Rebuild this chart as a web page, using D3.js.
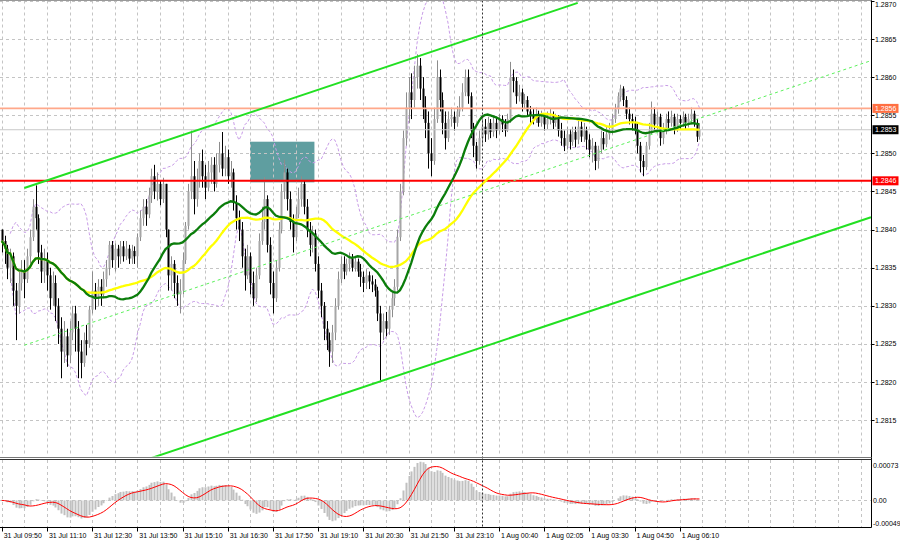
<!DOCTYPE html>
<html><head><meta charset="utf-8">
<script src="https://cdn.jsdelivr.net/npm/d3@7"></script>
<style>html,body{margin:0;padding:0;background:#fff;}svg{display:block;font-family:"Liberation Sans",Arial,sans-serif;}</style>
</head><body><svg id="c" width="900" height="543"></svg>
<script>
// ---- DATA (M5 candles) ----
const opens=[1.28400,
1.28385,1.28375,1.28350,1.28365,1.28320,1.28300,1.28330,1.28345,1.28335,1.28365,
1.28390,1.28430,1.28415,1.28370,1.28345,1.28360,1.28340,1.28310,1.28330,1.28300,
1.28270,1.28240,1.28260,1.28235,1.28265,1.28290,1.28270,1.28240,1.28225,1.28255,
1.28250,1.28295,1.28320,1.28310,1.28325,1.28315,1.28335,1.28350,1.28380,1.28360,
1.28375,1.28365,1.28378,1.28365,1.28375,1.28362,1.28372,1.28365,1.28390,1.28415,
1.28430,1.28420,1.28445,1.28470,1.28450,1.28460,1.28440,1.28460,1.28400,1.28340,
1.28355,1.28330,1.28315,1.28320,1.28360,1.28405,1.28450,1.28470,1.28440,1.28465,
1.28490,1.28470,1.28455,1.28475,1.28485,1.28460,1.28485,1.28500,1.28480,1.28495,
1.28470,1.28475,1.28435,1.28415,1.28400,1.28365,1.28340,1.28365,1.28330,1.28310,
1.28340,1.28385,1.28410,1.28440,1.28380,1.28330,1.28310,1.28350,1.28400,1.28450,
1.28475,1.28440,1.28410,1.28390,1.28420,1.28440,1.28460,1.28430,1.28400,1.28380,
1.28395,1.28355,1.28320,1.28300,1.28270,1.28255,1.28240,1.28265,1.28300,1.28335,
1.28355,1.28345,1.28355,1.28362,1.28350,1.28358,1.28345,1.28338,1.28330,1.28340,
1.28332,1.28328,1.28320,1.28290,1.28265,1.28280,1.28270,1.28295,1.28310,1.28325,
1.28390,1.28450,1.28520,1.28560,1.28580,1.28570,1.28600,1.28615,1.28585,1.28560,
1.28540,1.28500,1.28490,1.28545,1.28600,1.28570,1.28540,1.28520,1.28545,1.28548,
1.28540,1.28555,1.28560,1.28580,1.28600,1.28575,1.28530,1.28510,1.28490,1.28520,
1.28535,1.28525,1.28540,1.28528,1.28540,1.28530,1.28545,1.28538,1.28530,1.28545,
1.28600,1.28595,1.28575,1.28580,1.28565,1.28570,1.28555,1.28550,1.28545,1.28552,
1.28540,1.28548,1.28538,1.28545,1.28550,1.28540,1.28545,1.28530,1.28520,1.28510,
1.28525,1.28515,1.28528,1.28518,1.28535,1.28522,1.28530,1.28518,1.28505,1.28510,
1.28490,1.28505,1.28520,1.28512,1.28525,1.28530,1.28545,1.28558,1.28575,1.28585,
1.28570,1.28552,1.28545,1.28540,1.28532,1.28510,1.28490,1.28482,1.28510,1.28530,
1.28552,1.28538,1.28548,1.28520,1.28530,1.28545,1.28540,1.28548,1.28532,1.28545,
1.28540,1.28548,1.28540,1.28545,1.28552,1.28540,1.28522];
const closes=[
1.28385,1.28375,1.28350,1.28365,1.28320,1.28300,1.28330,1.28345,1.28335,1.28365,
1.28390,1.28430,1.28415,1.28370,1.28345,1.28360,1.28340,1.28310,1.28330,1.28300,
1.28270,1.28240,1.28260,1.28235,1.28265,1.28290,1.28270,1.28240,1.28225,1.28255,
1.28250,1.28295,1.28320,1.28310,1.28325,1.28315,1.28335,1.28350,1.28380,1.28360,
1.28375,1.28365,1.28378,1.28365,1.28375,1.28362,1.28372,1.28365,1.28390,1.28415,
1.28430,1.28420,1.28445,1.28470,1.28450,1.28460,1.28440,1.28460,1.28400,1.28340,
1.28355,1.28330,1.28315,1.28320,1.28360,1.28405,1.28450,1.28470,1.28440,1.28465,
1.28490,1.28470,1.28455,1.28475,1.28485,1.28460,1.28485,1.28500,1.28480,1.28495,
1.28470,1.28475,1.28435,1.28415,1.28400,1.28365,1.28340,1.28365,1.28330,1.28310,
1.28340,1.28385,1.28410,1.28440,1.28380,1.28330,1.28310,1.28350,1.28400,1.28450,
1.28475,1.28440,1.28410,1.28390,1.28420,1.28440,1.28460,1.28430,1.28400,1.28380,
1.28395,1.28355,1.28320,1.28300,1.28270,1.28255,1.28240,1.28265,1.28300,1.28335,
1.28355,1.28345,1.28355,1.28362,1.28350,1.28358,1.28345,1.28338,1.28330,1.28340,
1.28332,1.28328,1.28320,1.28290,1.28265,1.28280,1.28270,1.28295,1.28310,1.28325,
1.28390,1.28450,1.28520,1.28560,1.28580,1.28570,1.28600,1.28615,1.28585,1.28560,
1.28540,1.28500,1.28490,1.28545,1.28600,1.28570,1.28540,1.28520,1.28545,1.28548,
1.28540,1.28555,1.28560,1.28580,1.28600,1.28575,1.28530,1.28510,1.28490,1.28520,
1.28535,1.28525,1.28540,1.28528,1.28540,1.28530,1.28545,1.28538,1.28530,1.28545,
1.28600,1.28595,1.28575,1.28580,1.28565,1.28570,1.28555,1.28550,1.28545,1.28552,
1.28540,1.28548,1.28538,1.28545,1.28550,1.28540,1.28545,1.28530,1.28520,1.28510,
1.28525,1.28515,1.28528,1.28518,1.28535,1.28522,1.28530,1.28518,1.28505,1.28510,
1.28490,1.28505,1.28520,1.28512,1.28525,1.28530,1.28545,1.28558,1.28575,1.28585,
1.28570,1.28552,1.28545,1.28540,1.28532,1.28510,1.28490,1.28482,1.28510,1.28530,
1.28552,1.28538,1.28548,1.28520,1.28530,1.28545,1.28540,1.28548,1.28532,1.28545,
1.28540,1.28548,1.28540,1.28545,1.28552,1.28540,1.28522,1.28531];
const highs=[
1.28400,1.28392,1.28380,1.28375,1.28370,1.28330,1.28345,1.28360,1.28360,1.28375,
1.28400,1.28440,1.28458,1.28420,1.28380,1.28375,1.28370,1.28350,1.28345,1.28340,
1.28310,1.28285,1.28280,1.28270,1.28280,1.28300,1.28300,1.28280,1.28255,1.28265,
1.28275,1.28300,1.28345,1.28330,1.28335,1.28335,1.28345,1.28360,1.28385,1.28385,
1.28382,1.28380,1.28385,1.28385,1.28385,1.28380,1.28380,1.28378,1.28395,1.28425,
1.28440,1.28440,1.28455,1.28480,1.28485,1.28475,1.28465,1.28468,1.28460,1.28400,
1.28365,1.28360,1.28340,1.28335,1.28370,1.28410,1.28460,1.28530,1.28490,1.28480,
1.28500,1.28505,1.28485,1.28490,1.28495,1.28495,1.28500,1.28515,1.28528,1.28510,
1.28505,1.28490,1.28480,1.28445,1.28425,1.28410,1.28375,1.28380,1.28370,1.28345,
1.28350,1.28395,1.28430,1.28469,1.28445,1.28390,1.28345,1.28360,1.28410,1.28460,
1.28492,1.28480,1.28450,1.28420,1.28430,1.28455,1.28470,1.28465,1.28440,1.28410,
1.28405,1.28400,1.28365,1.28330,1.28305,1.28280,1.28265,1.28275,1.28310,1.28345,
1.28365,1.28365,1.28362,1.28370,1.28368,1.28365,1.28362,1.28355,1.28345,1.28348,
1.28345,1.28340,1.28335,1.28325,1.28300,1.28290,1.28292,1.28300,1.28318,1.28335,
1.28400,1.28460,1.28530,1.28580,1.28600,1.28605,1.28615,1.28630,1.28625,1.28600,
1.28575,1.28555,1.28520,1.28560,1.28622,1.28610,1.28580,1.28555,1.28555,1.28560,
1.28555,1.28562,1.28575,1.28592,1.28610,1.28610,1.28580,1.28540,1.28515,1.28530,
1.28545,1.28545,1.28548,1.28545,1.28550,1.28548,1.28552,1.28550,1.28545,1.28552,
1.28620,1.28610,1.28600,1.28590,1.28585,1.28578,1.28575,1.28562,1.28558,1.28560,
1.28556,1.28556,1.28552,1.28555,1.28558,1.28555,1.28552,1.28550,1.28540,1.28530,
1.28535,1.28532,1.28535,1.28535,1.28545,1.28542,1.28540,1.28535,1.28525,1.28520,
1.28515,1.28510,1.28530,1.28528,1.28535,1.28540,1.28552,1.28565,1.28580,1.28590,
1.28588,1.28575,1.28560,1.28552,1.28548,1.28540,1.28515,1.28498,1.28515,1.28540,
1.28568,1.28560,1.28555,1.28552,1.28540,1.28552,1.28555,1.28556,1.28552,1.28552,
1.28550,1.28555,1.28552,1.28552,1.28560,1.28556,1.28545,1.28538];
const lows=[
1.28370,1.28355,1.28335,1.28330,1.28300,1.28255,1.28290,1.28320,1.28310,1.28330,
1.28355,1.28385,1.28400,1.28355,1.28330,1.28330,1.28320,1.28295,1.28300,1.28280,
1.28250,1.28205,1.28225,1.28220,1.28225,1.28255,1.28240,1.28205,1.28205,1.28220,
1.28235,1.28245,1.28290,1.28295,1.28300,1.28300,1.28310,1.28325,1.28340,1.28350,
1.28345,1.28350,1.28355,1.28358,1.28360,1.28355,1.28355,1.28355,1.28350,1.28385,
1.28405,1.28405,1.28415,1.28435,1.28440,1.28438,1.28432,1.28435,1.28390,1.28320,
1.28320,1.28310,1.28300,1.28290,1.28315,1.28355,1.28400,1.28440,1.28420,1.28430,
1.28455,1.28455,1.28440,1.28450,1.28460,1.28450,1.28455,1.28475,1.28470,1.28470,
1.28460,1.28455,1.28425,1.28400,1.28385,1.28350,1.28320,1.28335,1.28315,1.28300,
1.28305,1.28335,1.28380,1.28400,1.28370,1.28315,1.28290,1.28305,1.28345,1.28395,
1.28440,1.28425,1.28400,1.28370,1.28385,1.28415,1.28430,1.28420,1.28390,1.28365,
1.28370,1.28345,1.28310,1.28285,1.28255,1.28242,1.28220,1.28225,1.28255,1.28295,
1.28330,1.28335,1.28340,1.28345,1.28345,1.28345,1.28338,1.28325,1.28318,1.28322,
1.28322,1.28318,1.28312,1.28280,1.28202,1.28255,1.28260,1.28262,1.28285,1.28300,
1.28320,1.28385,1.28445,1.28510,1.28540,1.28545,1.28560,1.28585,1.28570,1.28545,
1.28520,1.28480,1.28470,1.28485,1.28540,1.28555,1.28525,1.28505,1.28515,1.28535,
1.28530,1.28535,1.28548,1.28555,1.28575,1.28565,1.28520,1.28495,1.28480,1.28485,
1.28510,1.28515,1.28518,1.28520,1.28522,1.28520,1.28525,1.28528,1.28522,1.28528,
1.28540,1.28580,1.28565,1.28568,1.28555,1.28558,1.28548,1.28540,1.28538,1.28540,
1.28535,1.28535,1.28530,1.28532,1.28538,1.28532,1.28535,1.28522,1.28510,1.28503,
1.28505,1.28505,1.28510,1.28508,1.28512,1.28515,1.28515,1.28505,1.28495,1.28488,
1.28478,1.28480,1.28500,1.28505,1.28508,1.28518,1.28525,1.28540,1.28552,1.28568,
1.28562,1.28545,1.28538,1.28530,1.28525,1.28500,1.28475,1.28470,1.28478,1.28505,
1.28525,1.28530,1.28530,1.28510,1.28512,1.28525,1.28532,1.28535,1.28525,1.28528,
1.28532,1.28535,1.28532,1.28534,1.28538,1.28535,1.28515,1.28518];

const timeLabels=["31 Jul 09:50","31 Jul 11:10","31 Jul 12:30","31 Jul 13:50","31 Jul 15:10","31 Jul 16:30","31 Jul 17:50","31 Jul 19:10","31 Jul 20:30","31 Jul 21:50","31 Jul 23:10","1 Aug 00:40","1 Aug 02:05","1 Aug 03:30","1 Aug 04:50","1 Aug 06:10"];
const timeLabelBars=[0,16,32,48,64,80,96,112,128,144,160,176,192,208,224,240];
const priceTicks=[1.2815,1.2820,1.2825,1.2830,1.2835,1.2840,1.2845,1.2850,1.2855,1.2860,1.2865,1.2870];
const macdTicks=[0.00073,0,-0.00049];
const macdTickLabels=["0.00073","0.00","-0.00049"];
const levelPrices=[1.28559,1.28531,1.28464];
const levelLabels=["1.2856","1.2853","1.2846"];
const channelUpper=[[8.0,1.284545],[203.9,1.286974]];
const channelLower=[[40.0,1.280843],[307.7,1.284163]];
const channelMid=[[8.0,1.282483],[307.4,1.286212]];
const zoneBars=[87.9,110.7];
const zonePrices=[1.28462,1.285153];
const daySeparatorBar=170;
const maFastPeriod=30, maSlowPeriod=50, bbPeriod=20, bbDev=2, macdFast=12, macdSlow=26, macdSignal=9;

// ---- indicators ----
function sma(a,n){return a.map((_,i)=>d3.mean(a.slice(Math.max(0,i-n+1),i+1)));}
function stdev(a,n){return a.map((_,i)=>{const w=a.slice(Math.max(0,i-n+1),i+1);const m=d3.mean(w);return Math.sqrt(d3.mean(w,v=>(v-m)*(v-m)));});}
function ema(a,n){const k=2/(n+1);const out=[];a.forEach((v,i)=>out.push(i?k*v+(1-k)*out[i-1]:v));return out;}
const maFast=sma(closes,maFastPeriod), maSlow=sma(closes,maSlowPeriod);
const bbMid=sma(closes,bbPeriod), sd=stdev(closes,bbPeriod);
const bbUp=bbMid.map((m,i)=>m+bbDev*sd[i]), bbDn=bbMid.map((m,i)=>m-bbDev*sd[i]);
const eF=ema(closes,macdFast), eS=ema(closes,macdSlow);
const macd=eF.map((v,i)=>v-eS[i]);
const sig=sma(macd,macdSignal);

// ---- layout ----
const svg=d3.select("#c");
const W=871.5, mainTop=0.5, mainBot=456.5, subTop=460, subBot=527.5;
const x=d3.scaleLinear().domain([0,308]).range([1.7,1.7+308*2.825]);
const y=d3.scaleLinear().domain([1.2815,1.2870]).range([420.2,0.9]);
const ym=d3.scaleLinear().domain([-0.00049,0.00073]).range([subBot,subTop]);
const defs=svg.append("defs");
defs.append("clipPath").attr("id","cm").append("rect").attr("x",0).attr("y",mainTop).attr("width",W).attr("height",mainBot-mainTop);
defs.append("clipPath").attr("id","cs").append("rect").attr("x",0).attr("y",subTop).attr("width",W).attr("height",subBot-subTop);
const gm=svg.append("g").attr("clip-path","url(#cm)");
const gs=svg.append("g").attr("clip-path","url(#cs)");
const idx=d3.range(closes.length);

// zone rectangle
gm.append("rect").attr("x",x(zoneBars[0])).attr("width",x(zoneBars[1])-x(zoneBars[0]))
 .attr("y",y(zonePrices[1])).attr("height",y(zonePrices[0])-y(zonePrices[1])).attr("fill","#5f9ea0");

// grids
const grid="#c4c4c4";
const vBars=d3.range(0,309,8);
[gm,gs].forEach((g,k)=>{
 g.selectAll(null).data(vBars).enter().append("line")
  .attr("x1",d=>Math.round(x(d))+0.5).attr("x2",d=>Math.round(x(d))+0.5)
  .attr("y1",k?subTop:mainTop).attr("y2",k?subBot:mainBot)
  .attr("stroke",grid).attr("stroke-dasharray","3,3");
});
gm.selectAll(null).data(priceTicks).enter().append("line")
 .attr("x1",0).attr("x2",W).attr("y1",d=>Math.round(y(d))+0.5).attr("y2",d=>Math.round(y(d))+0.5)
 .attr("stroke",grid).attr("stroke-dasharray","3,3");
gs.append("line").attr("x1",0).attr("x2",W).attr("y1",Math.round(ym(0))+0.5).attr("y2",Math.round(ym(0))+0.5)
 .attr("stroke",grid).attr("stroke-dasharray","3,3");

// day separator
svg.append("line").attr("x1",Math.round(x(daySeparatorBar))+0.5).attr("x2",Math.round(x(daySeparatorBar))+0.5)
 .attr("y1",mainTop).attr("y2",subBot).attr("stroke","#333").attr("stroke-dasharray","2,2");

function drawLine(g,vals,from,color,width,dash){
 const ln=d3.line().x(i=>x(i)).y(i=>y(vals[i]));
 const p=g.append("path").attr("d",ln(idx.slice(from))).attr("fill","none").attr("stroke",color).attr("stroke-width",width);
 if(dash)p.attr("stroke-dasharray",dash);
}
// Bollinger bands
drawLine(gm,bbUp,3,"#c79be6",1,"3,2");
drawLine(gm,bbDn,3,"#c79be6",1,"3,2");

// candles
const cg=gm.append("g");
cg.selectAll(null).data(idx).enter().append("line")
 .attr("x1",i=>Math.round(x(i))+0.5).attr("x2",i=>Math.round(x(i))+0.5)
 .attr("y1",i=>y(highs[i])).attr("y2",i=>y(lows[i]))
 .attr("stroke",i=>closes[i]>=opens[i]?"#8c8c8c":"#000").attr("stroke-width",1);
cg.selectAll(null).data(idx).enter().append("rect")
 .attr("x",i=>Math.round(x(i))-0.5).attr("width",2)
 .attr("y",i=>y(Math.max(opens[i],closes[i])))
 .attr("height",i=>Math.max(1,Math.abs(y(opens[i])-y(closes[i]))))
 .attr("fill",i=>closes[i]>=opens[i]?"#a6a6a6":"#000");

// horizontal levels
const levelColors=["#ffa88a","#c8c8c8","#ff0000"], levelW=[1.6,1,2];
levelPrices.forEach((p,k)=>{
 gm.append("line").attr("x1",0).attr("x2",W).attr("y1",y(p)).attr("y2",y(p))
  .attr("stroke",levelColors[k]).attr("stroke-width",levelW[k]);
});

// moving averages
drawLine(gm,maSlow,0,"#ffff00",2.3);
drawLine(gm,maFast,0,"#0b7d0b",2.3);

// channel lines
const cl=d3.line().x(d=>x(d[0])).y(d=>y(d[1]));
gm.append("path").attr("d",cl(channelUpper)).attr("stroke","#22e022").attr("stroke-width",2).attr("fill","none");
gm.append("path").attr("d",cl(channelLower)).attr("stroke","#22e022").attr("stroke-width",2).attr("fill","none");
gm.append("path").attr("d",cl(channelMid)).attr("stroke","#5cf05c").attr("stroke-width",1).attr("stroke-dasharray","3,3").attr("fill","none");

// MACD
gs.selectAll(null).data(idx).enter().append("rect")
 .attr("x",i=>Math.round(x(i))-0.5).attr("width",2)
 .attr("y",i=>Math.min(ym(0),ym(macd[i]))).attr("height",i=>Math.abs(ym(macd[i])-ym(0)))
 .attr("fill","#c0c0c0");
gs.append("path").attr("d",d3.line().x(i=>x(i)).y(i=>ym(sig[i]))(idx)).attr("fill","none").attr("stroke","#ff0000").attr("stroke-width",1);

// frames
const fr=svg.append("g").attr("stroke","#000").attr("fill","none");
fr.append("line").attr("x1",W).attr("x2",W).attr("y1",0).attr("y2",subBot);
fr.append("line").attr("x1",0).attr("x2",W).attr("y1",subBot).attr("y2",subBot);
fr.append("line").attr("x1",0).attr("x2",W).attr("y1",0.5).attr("y2",0.5).attr("stroke","#999");
fr.append("line").attr("x1",0).attr("x2",W).attr("y1",457.5).attr("y2",457.5).attr("stroke","#777");
fr.append("line").attr("x1",0).attr("x2",W).attr("y1",459.5).attr("y2",459.5).attr("stroke","#333");

// price axis
const fs=7;
svg.selectAll(null).data(priceTicks).enter().append("line")
 .attr("x1",W).attr("x2",W+3).attr("y1",d=>Math.round(y(d))+0.5).attr("y2",d=>Math.round(y(d))+0.5).attr("stroke","#000");
svg.selectAll(null).data(priceTicks).enter().append("text")
 .attr("x",875).attr("y",d=>Math.max(y(d),4)+2.5).attr("font-size",fs).attr("fill","#000").text(d=>d.toFixed(4));
const boxFill=["#ff6f42","#000","#ff0000"];
levelPrices.forEach((p,k)=>{
 svg.append("rect").attr("x",W+1).attr("y",y(p)-4.5).attr("width",26).attr("height",9).attr("fill",boxFill[k]);
 svg.append("text").attr("x",875).attr("y",y(p)+2.5).attr("font-size",fs).attr("fill","#fff").text(levelLabels[k]);
});
// macd axis
macdTicks.forEach((v,k)=>{
 const yy=k===0?465:(k===1?ym(0):523.5);
 svg.append("text").attr("x",873).attr("y",yy+2.5).attr("font-size",fs).attr("fill","#000").text(macdTickLabels[k]);
});
// time axis
svg.selectAll(null).data(timeLabelBars).enter().append("line")
 .attr("x1",i=>Math.round(x(i))+0.5).attr("x2",i=>Math.round(x(i))+0.5).attr("y1",subBot).attr("y2",subBot+4).attr("stroke","#000");
svg.selectAll(null).data(timeLabelBars).enter().append("text")
 .attr("x",i=>x(i)+2).attr("y",538).attr("font-size",fs).attr("fill","#000").text((_,k)=>timeLabels[k]);
</script></body></html>
